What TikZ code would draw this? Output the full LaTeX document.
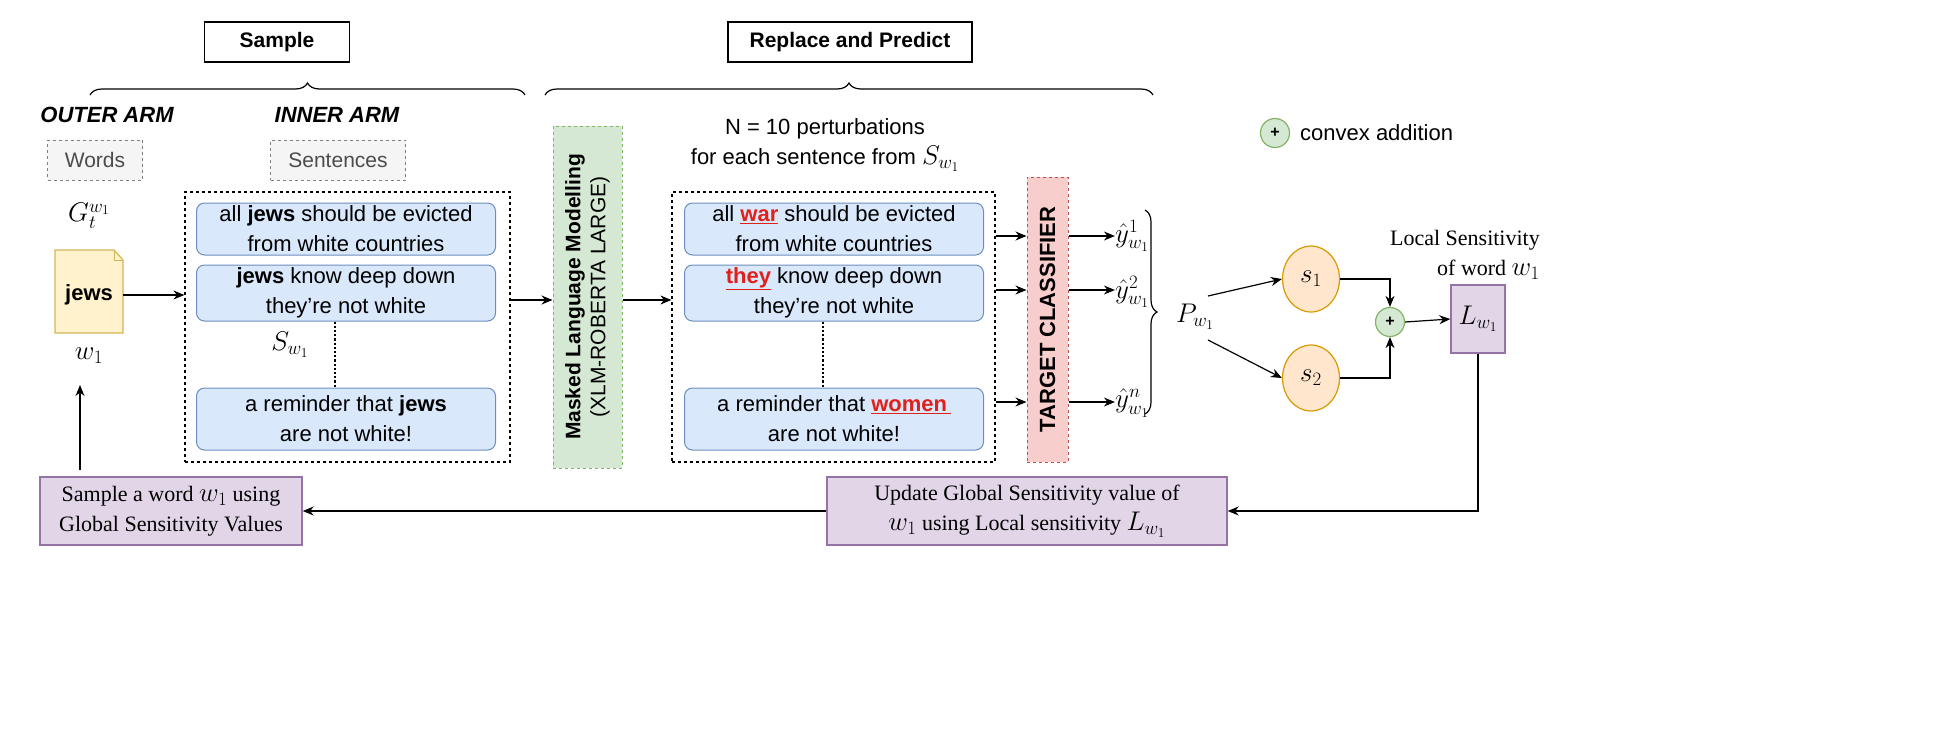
\RequirePackage{fix-cm}
\documentclass[tikz,border=0pt]{standalone}
\usepackage{fontspec}
\setmainfont{Liberation Sans}
\newfontfamily\serif{Liberation Serif}
\usetikzlibrary{decorations.pathreplacing,arrows.meta,calc,shapes.geometric}
\definecolor{sentfill}{HTML}{DAE8FC}\definecolor{sentdraw}{HTML}{6C8EBF}
\definecolor{grnfill}{HTML}{D5E8D4}\definecolor{grndraw}{HTML}{82B366}
\definecolor{redfill}{HTML}{F8CECC}\definecolor{reddraw}{HTML}{B85450}
\definecolor{orfill}{HTML}{FFE6CC}\definecolor{ordraw}{HTML}{D79B00}
\definecolor{purfill}{HTML}{E1D5E7}\definecolor{purdraw}{HTML}{9673A6}
\definecolor{yelfill}{HTML}{FFF2CC}\definecolor{yeldraw}{HTML}{D6B656}
\definecolor{redword}{HTML}{E0201B}
\begin{document}
\begin{tikzpicture}[x=1pt,y=-1pt,
 every node/.style={font=\fontsize{22}{30}\selectfont, inner sep=0pt},
 m/.style={font=\fontsize{27}{30}\selectfont},
 arr/.style={-{Stealth[length=11pt,width=9pt]}, line width=1.2pt},
 sent/.style={draw=sentdraw, fill=sentfill, rounded corners=8pt, line width=1pt, minimum width=299pt, align=center},
 title/.style={draw, line width=1.2pt, font=\fontsize{21}{24}\selectfont\bfseries},
 gbox/.style={draw=gray, dashed, fill=gray!8, line width=1pt, font=\fontsize{21}{24}\selectfont, text=black!70, minimum height=40pt},
 dbox/.style={draw, dashed, line width=1.2pt},
 brc/.style={decorate, decoration={brace, amplitude=12pt}, line width=1.2pt},
 purp/.style={draw=purdraw, fill=purfill, line width=1.4pt, font=\serif\fontsize{22}{30}\selectfont, align=center}]
\useasboundingbox (0,0) rectangle (1936,748);
% titles
\node[title, minimum width=145pt, minimum height=40pt] (samp) at (277,42) {Sample};
\node[title, minimum width=244pt, minimum height=40pt] (rp) at (850,42) {Replace and Predict};
\draw[brc] (90,95) -- (525,95);
\draw[brc] (545,95) -- (1153,95);
\node[font=\fontsize{22}{24}\selectfont\bfseries\itshape] (outer) at (107,115) {OUTER ARM};
\node[font=\fontsize{22}{24}\selectfont\bfseries\itshape] (inner) at (337,115) {INNER ARM};
\node[gbox, minimum width=95pt] (words) at (95,160) {Words};
\node[gbox, minimum width=135pt] (sents) at (338,160) {Sentences};
% document
\node[m] (G) at (89,216) {$G_t^{w_1}$};
\draw[draw=yeldraw, fill=yelfill, line width=1.2pt] (55,250) -- (114,250) -- (123,260) -- (123,333) -- (55,333) -- cycle;
\draw[draw=yeldraw, line width=1pt] (114,250) -- (114,260) -- (123,260);
\node[font=\fontsize{22}{24}\selectfont\bfseries] (doc) at (89,295) {jews};
\coordinate (docR) at (123,295);
\node[m] (w1) at (89,356) {$w_1$};
% left dashed
\node[dbox, minimum width=325pt, minimum height=270pt] (lbox) at (347.5,327) {};
\node[sent, minimum height=52pt] (s1) at (346,229) {all \textbf{jews} should be evicted\\from white countries};
\node[sent, minimum height=56pt] (s2) at (346,293) {\textbf{jews} know deep down\\they're not white};
\node[sent, minimum height=62pt] (s3) at (346,419) {a reminder that \textbf{jews}\\are not white!};
\draw[line width=2.2pt, dotted] (s2.south -| 335,0) -- (s3.north -| 335,0);
\node[m] (S) at (290,345) {$S_{w_1}$};
\draw[arr] (docR) -- (lbox.west|-docR);
% MLM
\node[draw=grndraw, fill=grnfill, dashed, line width=1pt, minimum width=69pt, minimum height=342pt] (mlm) at (587.5,297) {};
\node[rotate=90, align=center, font=\fontsize{21}{25}\selectfont] at (mlm.center) {\textbf{Masked Language Modelling}\\(XLM-ROBERTA LARGE)};
\draw[arr] (lbox.east|-0,300) -- (mlm.west|-0,300);
% right dashed
\node[dbox, minimum width=323pt, minimum height=270pt] (rbox) at (833.5,327) {};
\draw[arr] (mlm.east|-0,300) -- (rbox.west|-0,300);
\node[align=center] (pert) at (825,145) {N = 10 perturbations\\for each sentence from {\fontsize{27}{30}\selectfont$S_{w_1}$}};
\node[sent, minimum height=52pt] (r1) at (834,229) {all \textcolor{redword}{\textbf{\underline{war}}} should be evicted\\from white countries};
\node[sent, minimum height=56pt] (r2) at (834,293) {\textcolor{redword}{\textbf{\underline{they}}} know deep down\\they're not white};
\node[sent, minimum height=62pt] (r3) at (834,419) {a reminder that \textcolor{redword}{\textbf{\underline{women\,}}}\\are not white!};
\draw[line width=2.2pt, dotted] (r2.south -| 823,0) -- (r3.north -| 823,0);
% target classifier
\node[draw=reddraw, fill=redfill, dashed, line width=1pt, minimum width=41pt, minimum height=285pt] (tc) at (1047.5,319.5) {};
\node[rotate=90, font=\fontsize{22}{24}\selectfont\bfseries] at (tc.center) {TARGET CLASSIFIER};
\node[m] (y1) at (1132,236) {$\hat{y}^1_{w_1}$};
\node[m] (y2) at (1132,292) {$\hat{y}^2_{w_1}$};
\node[m] (yn) at (1132,403) {$\hat{y}^n_{w_1}$};
\foreach \yy/\t in {236/y1,290/y2,402/yn}{
 \draw[arr] (rbox.east|-0,\yy) -- (tc.west|-0,\yy);
 \draw[arr] (tc.east|-0,\yy) -- (\t.west|-0,\yy);}
\draw[brc] (1145,210) -- (1145,414);
\node[m] (P) at (1195,317) {$P_{w_1}$};
% s nodes
\node[draw=ordraw, fill=orfill, ellipse, line width=1.2pt, minimum width=57pt, minimum height=66pt, m] (c1) at (1311,279) {$s_1$};
\node[draw=ordraw, fill=orfill, ellipse, line width=1.2pt, minimum width=57pt, minimum height=66pt, m] (c2) at (1311,378) {$s_2$};
\node[draw=grndraw, fill=grnfill, circle, line width=1.2pt, minimum size=29pt, font=\fontsize{16}{16}\selectfont\bfseries] (plus) at (1390,322) {+};
\node[draw=purdraw, fill=purfill, line width=1.4pt, minimum width=54pt, minimum height=68pt, m] (L) at (1478,319) {$L_{w_1}$};
\node[font=\serif\fontsize{22}{30}\selectfont, align=right, anchor=east] (ls) at (1540,255) {Local Sensitivity\\of word {\fontsize{27}{30}\selectfont$w_1$}};
\draw[arr] (1208,296) -- (c1.west);
\draw[arr] (1208,340) -- (c2.west);
\draw[arr] (c1.east) -| (plus.north);
\draw[arr] (c2.east) -| (plus.south);
\draw[arr] (plus.east) -- (L.west);
% legend
\node[draw=grndraw, fill=grnfill, circle, line width=1.2pt, minimum size=29pt, font=\fontsize{16}{16}\selectfont\bfseries] (lp) at (1275,133) {+};
\node[anchor=west] (lt) at (1300,133) {convex addition};
% bottom
\node[purp, minimum width=262pt, minimum height=68pt] (b1) at (171,511) {Sample a word {\fontsize{27}{30}\selectfont$w_1$} using\\Global Sensitivity Values};
\node[purp, minimum width=400pt, minimum height=68pt] (b2) at (1027,511) {Update Global Sensitivity value of\\{\fontsize{27}{30}\selectfont$w_1$} using Local sensitivity {\fontsize{27}{30}\selectfont$L_{w_1}$}};
\draw[arr] (L.south) |- (b2.east);
\draw[arr] (b2.west) -- (b1.east);
\draw[arr] (80,470) -- (80,385);
\end{tikzpicture}
\end{document}
